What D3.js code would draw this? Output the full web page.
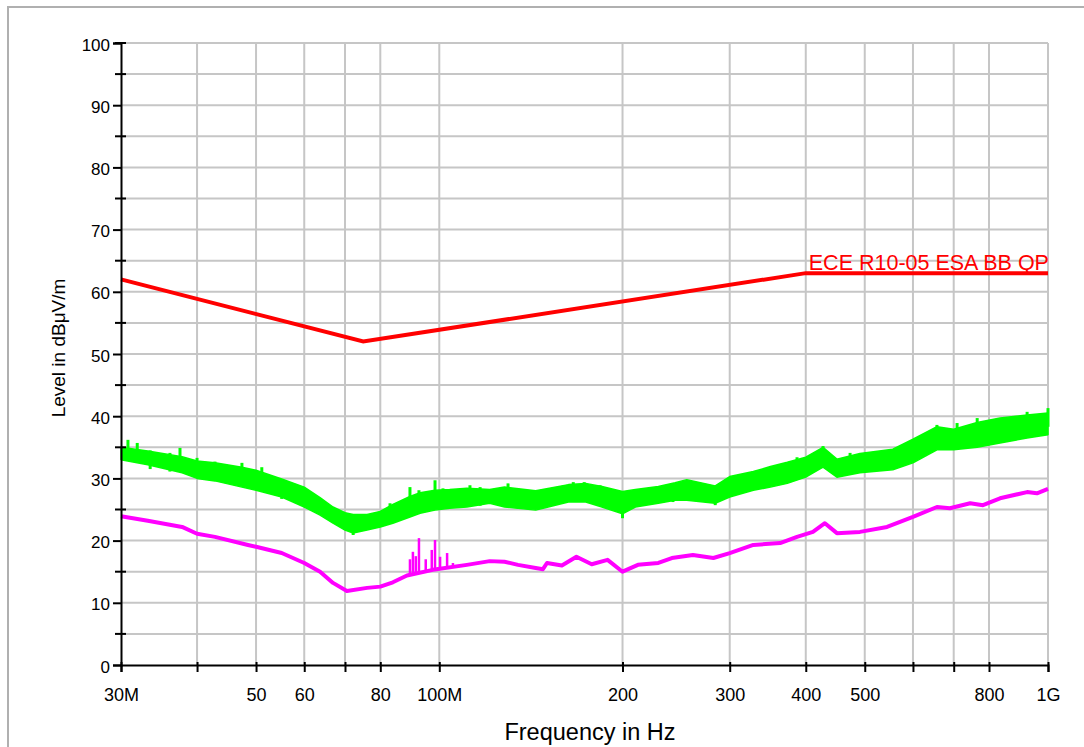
<!DOCTYPE html>
<html>
<head>
<meta charset="utf-8">
<script src="https://cdn.jsdelivr.net/npm/d3@7"></script>
<style>
  body { margin: 0; background: #fff; }
  svg text { font-family: "Liberation Sans", Arial, Helvetica, sans-serif; }
</style>
</head>
<body>
<script>
// frequencies in MHz, levels in dBuV/m
const xTicks = [30, 40, 50, 60, 70, 80, 100, 200, 300, 400, 500, 600, 700, 800, 1000];
const xTickLabels = {30: "30M", 50: "50", 60: "60", 80: "80", 100: "100M", 200: "200",
  300: "300", 400: "400", 500: "500", 800: "800", 1000: "1G"};
const yMajor = [0, 10, 20, 30, 40, 50, 60, 70, 80, 90, 100];
const yMinor = [5, 15, 25, 35, 45, 55, 65, 75, 85, 95];

// limit line
const limitFreq = [30, 75, 400, 1000];
const limitVal = [62, 52, 63, 63];
const limitName = "ECE R10-05 ESA BB QP";

// peak trace (green) as min / max envelope
const greenFreq = [30, 33.2, 37.8, 40, 42.8, 47.4, 50, 55.1, 60, 63.7, 66.9, 70, 72.2, 76.1, 80, 83.9,
  89.5, 93, 98.4, 104, 111, 121, 128, 144, 163, 174, 185, 200, 210, 229, 244, 255, 284, 300,
  328, 350, 373, 400, 427, 450, 491, 556, 600, 657, 700, 765, 834, 924, 1000];
const greenLo = [33.0, 32.2, 30.9, 30.0, 29.6, 28.6, 28.1, 27.0, 25.4, 24.1, 22.8, 21.7, 21.2, 21.7, 22.2, 22.8,
  23.8, 24.4, 24.9, 25.2, 25.4, 26.0, 25.4, 24.9, 26.2, 26.2, 25.4, 24.3, 25.4, 26.0, 26.5, 26.5, 26.0, 27.0,
  28.1, 28.6, 29.2, 30.2, 31.8, 30.2, 30.9, 31.4, 32.5, 34.6, 34.6, 35.0, 35.7, 36.5, 37.0];
const greenHi = [35.0, 34.4, 33.5, 32.8, 32.5, 31.8, 31.3, 29.9, 28.6, 26.9, 25.4, 24.5, 24.2, 24.2, 24.7, 25.8,
  27.1, 27.7, 28.1, 28.2, 28.4, 28.2, 28.6, 28.0, 29.0, 29.2, 28.7, 27.9, 28.2, 28.7, 29.3, 29.8, 28.8, 30.3,
  31.1, 31.9, 32.6, 33.4, 35.0, 33.1, 34.0, 34.7, 36.3, 38.3, 37.9, 39.0, 39.7, 40.2, 40.5];
const greenSpikeFreq = [30.8, 31.9, 33.5, 36.1, 37.5, 40, 42.8, 47.4, 51.1, 55.1, 58.6, 83, 89.5, 92.6, 98.4,
  101.4, 112.3, 116.7, 129.7, 166, 173, 183.7, 242, 387, 427, 473, 657, 709, 765, 924, 1000];
const greenSpikeTop = [36.2, 35.7, 34.5, 34.1, 34.9, 33.3, 32.7, 32.5, 31.8, 29.7, 28.9, 26.0, 28.6, 28.1, 29.7,
  28.4, 28.9, 28.6, 29.2, 29.4, 29.4, 28.9, 29.2, 33.4, 35.2, 34.1, 38.6, 38.9, 39.7, 40.7, 41.3];
const greenDipFreq = [72.2, 200, 284];
const greenDipBottom = [20.9, 23.6, 25.7];

// average trace (magenta)
const magFreq = [30, 33.2, 37.8, 40, 42.8, 48.5, 50, 55.1, 60, 63.7, 66.9, 70.5, 76.1, 80, 83.9, 88.5,
  97.6, 111, 121, 128, 134.7, 144, 148, 150.3, 159, 168, 178, 189, 200, 212, 229, 241, 261, 282,
  300, 328, 363, 387, 411, 430, 450, 491, 544, 600, 657, 690, 745, 782, 834, 924, 959, 1000];
const magVal = [23.9, 23.2, 22.2, 21.1, 20.6, 19.3, 19.0, 18.0, 16.4, 15.0, 13.2, 11.9, 12.4, 12.6, 13.3, 14.4,
  15.3, 16.1, 16.7, 16.6, 16.1, 15.6, 15.4, 16.4, 16.0, 17.4, 16.2, 16.9, 15.0, 16.1, 16.4, 17.2, 17.7, 17.2,
  18.0, 19.3, 19.6, 20.6, 21.4, 22.8, 21.2, 21.4, 22.2, 23.8, 25.4, 25.2, 26.0, 25.7, 26.8, 27.8, 27.6, 28.3];
const magSpikeFreq = [89.5, 90.5, 91.5, 92.6, 95, 97.2, 98.4, 100.3, 103, 105.3];
const magSpikeTop = [17.0, 18.2, 17.5, 20.4, 17.0, 18.5, 20.1, 17.4, 18.0, 16.4];
const magSpikeBase = [14.6, 14.7, 14.8, 14.9, 15.1, 15.2, 15.3, 15.4, 15.6, 15.7];

const width = 1084, height = 747;
const plotLeft = 121, plotRight = 1048, plotTop = 43, plotBottom = 665;

const svg = d3.select("body").append("svg")
  .attr("width", width)
  .attr("height", height);

// outer frame
svg.append("rect")
  .attr("x", 8).attr("y", 7)
  .attr("width", 1090).attr("height", 760)
  .attr("fill", "none")
  .attr("stroke", "#b0b0b0")
  .attr("stroke-width", 2);

const x = d3.scaleLog().domain([30, 1000]).range([plotLeft, plotRight]);
const y = d3.scaleLinear().domain([0, 100]).range([plotBottom, plotTop]);

// grid
const grid = svg.append("g").attr("stroke", "#c6c6c6").attr("stroke-width", 2);
grid.selectAll("line.h")
  .data(yMajor.concat(yMinor).filter(v => v > 0))
  .enter().append("line")
  .attr("x1", plotLeft).attr("x2", plotRight)
  .attr("y1", d => y(d)).attr("y2", d => y(d));
grid.selectAll("line.v")
  .data(xTicks.filter(v => v > 30))
  .enter().append("line")
  .attr("y1", plotTop).attr("y2", plotBottom)
  .attr("x1", d => x(d)).attr("x2", d => x(d));

// green band
const area = d3.area()
  .x((d, i) => x(greenFreq[i]))
  .y0((d, i) => y(greenLo[i]))
  .y1((d, i) => y(greenHi[i]));
svg.append("path")
  .attr("d", area(greenFreq))
  .attr("fill", "#00ff00")
  .attr("stroke", "#00ff00")
  .attr("stroke-width", 1.5)
  .attr("stroke-linejoin", "bevel");
svg.selectAll("line.gspike")
  .data(greenSpikeFreq)
  .enter().append("line")
  .attr("x1", d => x(d)).attr("x2", d => x(d))
  .attr("y1", (d, i) => y(greenSpikeTop[i]))
  .attr("y2", (d, i) => y(greenSpikeTop[i] - 3))
  .attr("stroke", "#00ff00")
  .attr("stroke-width", 3);
svg.selectAll("line.gdip")
  .data(greenDipFreq)
  .enter().append("line")
  .attr("x1", d => x(d)).attr("x2", d => x(d))
  .attr("y1", (d, i) => y(greenDipBottom[i]))
  .attr("y2", (d, i) => y(greenDipBottom[i] + 3))
  .attr("stroke", "#00ff00")
  .attr("stroke-width", 3);

// magenta trace
const magLine = d3.line()
  .x((d, i) => x(magFreq[i]))
  .y((d, i) => y(magVal[i]));
svg.append("path")
  .attr("d", magLine(magFreq))
  .attr("fill", "none")
  .attr("stroke", "#ff00ff")
  .attr("stroke-width", 4)
  .attr("stroke-linejoin", "round");
svg.selectAll("line.mspike")
  .data(magSpikeFreq)
  .enter().append("line")
  .attr("x1", d => x(d)).attr("x2", d => x(d))
  .attr("y1", (d, i) => y(magSpikeTop[i]))
  .attr("y2", (d, i) => y(magSpikeBase[i]))
  .attr("stroke", "#ff00ff")
  .attr("stroke-width", 2.5);

// limit line
const limLine = d3.line()
  .x((d, i) => x(limitFreq[i]))
  .y((d, i) => y(limitVal[i]));
svg.append("path")
  .attr("d", limLine(limitFreq))
  .attr("fill", "none")
  .attr("stroke", "#ff0000")
  .attr("stroke-width", 4);
svg.append("text")
  .attr("x", x(400) + 3)
  .attr("y", y(63) - 3)
  .attr("fill", "#ff0000")
  .style("font-size", "21.5px")
  .text(limitName);

// x axis
const xAxis = d3.axisBottom(x)
  .tickValues(xTicks)
  .tickSize(7)
  .tickPadding(16)
  .tickFormat(d => xTickLabels[d] || "");
const gx = svg.append("g")
  .attr("transform", `translate(0,${plotBottom})`)
  .call(xAxis);
gx.select(".domain").attr("stroke", "#000").attr("stroke-width", 2);
gx.selectAll(".tick line").attr("stroke", "#000").attr("stroke-width", 2).attr("y1", -3);
gx.selectAll(".tick text")
  .attr("fill", "#000")
  .style("font-size", "18px")
  .style("font-family", "Liberation Sans, Arial, sans-serif");

// y axis
const yAxis = d3.axisLeft(y)
  .tickValues(yMajor)
  .tickSize(8)
  .tickPadding(3)
  .tickFormat(d3.format("d"));
const gy = svg.append("g")
  .attr("transform", `translate(${plotLeft},0)`)
  .call(yAxis);
gy.select(".domain").attr("stroke", "#000").attr("stroke-width", 2);
gy.selectAll(".tick line").attr("stroke", "#000").attr("stroke-width", 2);
gy.selectAll(".tick text")
  .attr("fill", "#000")
  .attr("dy", "0.42em")
  .style("font-size", "17px")
  .style("font-family", "Liberation Sans, Arial, sans-serif");
gy.selectAll("line.minor")
  .data(yMinor.concat([100]))
  .enter().append("line")
  .attr("x1", -6).attr("x2", 5)
  .attr("y1", d => y(d)).attr("y2", d => y(d))
  .attr("stroke", "#000")
  .attr("stroke-width", 2);

// axis titles
svg.append("text")
  .attr("x", 590)
  .attr("y", 740)
  .attr("text-anchor", "middle")
  .style("font-size", "23.5px")
  .text("Frequency in Hz");
svg.append("text")
  .attr("transform", `translate(65,348) rotate(-90)`)
  .attr("text-anchor", "middle")
  .style("font-size", "19px")
  .text("Level in dBμV/m");
</script>
</body>
</html>
